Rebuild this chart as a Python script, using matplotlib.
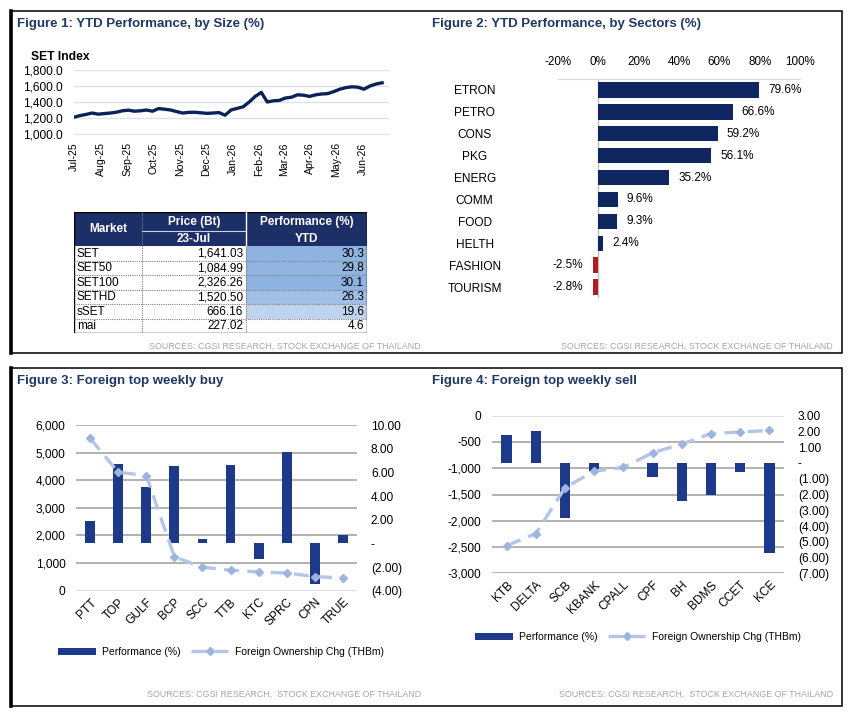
import matplotlib
matplotlib.use("Agg")
import matplotlib.pyplot as plt
import matplotlib.dates as mdates
import numpy as np
import pandas as pd
from matplotlib.patches import Rectangle
from matplotlib.lines import Line2D
from matplotlib.ticker import FuncFormatter
from matplotlib.colors import LinearSegmentedColormap, Normalize

plt.rcParams["font.family"] = ["Liberation Sans", "DejaVu Sans"]

# ---- data ----
# SET index, weekly readings from Jul-25
set_index = [1210, 1230, 1245, 1262, 1248, 1255, 1262, 1272, 1290, 1298,
             1285, 1290, 1300, 1285, 1318, 1310, 1300, 1280, 1262, 1270,
             1272, 1265, 1258, 1262, 1268, 1235, 1300, 1320, 1340, 1400,
             1470, 1520, 1400, 1415, 1420, 1450, 1460, 1490, 1485, 1470,
             1490, 1500, 1505, 1530, 1560, 1580, 1590, 1585, 1560, 1600,
             1625, 1640]

markets = ["SET", "SET50", "SET100", "SETHD", "sSET", "mai"]
prices = [1641.03, 1084.99, 2326.26, 1520.50, 666.16, 227.02]
ytd_perf = [30.3, 29.8, 30.1, 26.3, 19.6, 4.6]

sectors = ["ETRON", "PETRO", "CONS", "PKG", "ENERG", "COMM", "FOOD", "HELTH",
           "FASHION", "TOURISM"]
sector_perf = [79.6, 66.6, 59.2, 56.1, 35.2, 9.6, 9.3, 2.4, -2.5, -2.8]

buy_names = ["PTT", "TOP", "GULF", "BCP", "SCC", "TTB", "KTC", "SPRC", "CPN", "TRUE"]
buy_perf = [1.9, 6.7, 4.8, 6.5, 0.4, 6.6, -1.3, 7.7, -3.4, 0.7]
buy_flow = [5520, 4290, 4170, 1230, 850, 740, 680, 640, 510, 460]

sell_names = ["KTB", "DELTA", "SCB", "KBANK", "CPALL", "CPF", "BH", "BDMS", "CCET", "KCE"]
sell_perf = [1.8, 2.0, -3.5, -0.5, 0.0, -0.9, -2.4, -2.05, -0.55, -5.7]
sell_flow = [-2475, -2245, -1370, -1055, -985, -705, -540, -340, -310, -280]

# ---- layout helpers ----
W, H = 853, 717
fig = plt.figure(figsize=(W / 100, H / 100), dpi=100)


def box(x0, y0, x1, y1):
    return [x0 / W, 1 - y1 / H, (x1 - x0) / W, (y1 - y0) / H]


def fx(x):
    return x / W


def fy(y):
    return 1 - y / H


NAVY = "#1f3864"
BAR_DARK = "#0f2660"
BAR_MID = "#1d3a8a"
LINE_LIGHT = "#b4c6e7"
MARK = "#9db4de"
GREY_TXT = "#a6a6a6"
FS = 8.6

# panel borders
for x0, y0, x1, y1 in [(11, 11, 842, 353), (11, 368, 842, 706)]:
    fig.add_artist(Rectangle((fx(x0), fy(y1)), (x1 - x0) / W, (y1 - y0) / H,
                             transform=fig.transFigure, fill=False, ec="black", lw=1.1))
    fig.add_artist(Line2D([fx(x0), fx(x0)], [fy(y0), fy(y1)],
                          transform=fig.transFigure, color="black", lw=2.6))

titles = [(17, 24, "Figure 1: YTD Performance, by Size (%)"),
          (432, 24, "Figure 2: YTD Performance, by Sectors (%)"),
          (17, 381, "Figure 3: Foreign top weekly buy"),
          (432, 381, "Figure 4: Foreign top weekly sell")]
for x, y, t in titles:
    fig.text(fx(x), fy(y), t, ha="left", va="center", fontsize=9.5,
             fontweight="bold", color=NAVY)

src1 = "SOURCES: CGSI RESEARCH, STOCK EXCHANGE OF THAILAND"
src2 = "SOURCES: CGSI RESEARCH,  STOCK EXCHANGE OF THAILAND"
for x, y, t in [(421, 346, src1), (833, 346, src1), (421, 694, src2), (833, 694, src2)]:
    fig.text(fx(x), fy(y), t, ha="right", va="center", fontsize=6.4, color=GREY_TXT)

# ---- Figure 1: SET index line ----
dates = pd.date_range("2025-07-01", periods=len(set_index), freq="7D")
ax1 = fig.add_axes(box(74, 70, 389, 134))
ax1.plot(dates, set_index, color="#0b2258", lw=2.4)
ax1.set_xlim(pd.Timestamp("2025-07-01"), pd.Timestamp("2026-07-01"))
ax1.set_ylim(1000, 1800)
ax1.set_yticks(np.arange(1000, 1801, 200))
ax1.yaxis.set_major_formatter(FuncFormatter(lambda v, p: f"{v:,.1f}"))
ax1.set_xticks(pd.date_range("2025-07-01", "2026-06-01", freq="MS"))
ax1.xaxis.set_major_formatter(mdates.DateFormatter("%b-%y"))
ax1.tick_params(axis="x", rotation=90, labelsize=7.6, length=0, pad=6)
ax1.tick_params(axis="y", labelsize=FS, length=0, pad=8)
ax1.grid(axis="y", color="#dbe3ee", lw=1.0)
for s in ["top", "right", "left"]:
    ax1.spines[s].set_visible(False)
ax1.spines["bottom"].set_color("#dbe3ee")
fig.text(fx(31), fy(57), "SET Index", ha="left", va="center", fontsize=8.7, fontweight="bold")

# ---- Figure 1 table ----
axt = fig.add_axes(box(74, 212, 367, 333))
axt.set_xlim(74, 367)
axt.set_ylim(333, 212)
axt.set_axis_off()
cx = [74, 142, 246, 367]
hy0, hmid, hy1 = 212, 231, 246
row_h = (333 - hy1) / len(markets)
axt.add_patch(Rectangle((cx[0], hy0), cx[3] - cx[0], hy1 - hy0, color="#1c2f66", lw=0))
cmap = LinearSegmentedColormap.from_list("perf", ["#ffffff", "#8fb3e0"])
norm = Normalize(min(ytd_perf), max(ytd_perf))
for i, (m, p, v) in enumerate(zip(markets, prices, ytd_perf)):
    y0 = hy1 + i * row_h
    axt.add_patch(Rectangle((cx[2], y0), cx[3] - cx[2], row_h, color=cmap(norm(v)), lw=0))
    yc = y0 + row_h / 2 + 0.5
    axt.text(cx[0] + 3, yc, m, ha="left", va="center", fontsize=8.5)
    axt.text(cx[2] - 3, yc, f"{p:,.2f}", ha="right", va="center", fontsize=8.5)
    axt.text(cx[3] - 3, yc, f"{v:.1f}", ha="right", va="center", fontsize=8.5)
    if i > 0:
        axt.plot([cx[0], cx[3]], [y0, y0], color="#7f7f7f", lw=0.8, ls=(0, (1, 1)))
hdr = dict(ha="center", va="center", fontsize=8.5, fontweight="bold", color="white")
axt.text((cx[0] + cx[1]) / 2, (hy0 + hy1) / 2, "Market", **hdr)
axt.text((cx[1] + cx[2]) / 2, (hy0 + hmid) / 2 + 0.5, "Price (Bt)", **hdr)
axt.text((cx[1] + cx[2]) / 2, (hmid + hy1) / 2 + 0.5, "23-Jul", **hdr)
axt.text((cx[2] + cx[3]) / 2, (hy0 + hmid) / 2 + 0.5, "Performance (%)", **hdr)
axt.text((cx[2] + cx[3]) / 2, (hmid + hy1) / 2 + 0.5, "YTD", **hdr)
axt.plot([cx[1], cx[2]], [hmid, hmid], color="#c9d3e6", lw=0.8)
axt.plot([cx[2], cx[2]], [hy0, hy1], color="white", lw=1.0)
axt.plot([cx[1], cx[1]], [hy0, 333], color="#7f7f7f", lw=0.8, ls=(0, (1, 1)))
axt.plot([cx[2], cx[2]], [hy1, 333], color="#7f7f7f", lw=0.8, ls=(0, (1, 1)))
axt.add_patch(Rectangle((cx[0], hy0), cx[3] - cx[0], 333 - hy0, fill=False, ec="black", lw=1.0))

# ---- Figure 2: sectors ----
ax2 = fig.add_axes(box(558, 79, 800, 298))
ypos = np.arange(len(sectors))
colors = [BAR_DARK if v >= 0 else "#b01c24" for v in sector_perf]
ax2.barh(ypos, sector_perf, height=0.7, color=colors)
ax2.set_xlim(-20, 100)
ax2.set_ylim(len(sectors) - 0.5, -0.5)
ax2.set_xticks(np.arange(-20, 101, 20))
ax2.xaxis.set_major_formatter(FuncFormatter(lambda v, p: f"{v:.0f}%"))
ax2.xaxis.tick_top()
ax2.tick_params(axis="x", labelsize=8.4, length=0, pad=8)
ax2.set_yticks(ypos)
ax2.set_yticklabels(sectors, ha="center")
ax2.tick_params(axis="y", labelsize=FS, length=0, pad=60)
for s in ["bottom", "right", "left"]:
    ax2.spines[s].set_visible(False)
ax2.spines["top"].set_color("#d9d9d9")
ax2.axvline(0, color="#bfbfbf", lw=1.0, zorder=0)
for yv, v in zip(ypos, sector_perf):
    if v >= 0:
        ax2.annotate(f"{v:.1f}%", (v, yv), xytext=(6.5, 0), textcoords="offset points",
                     ha="left", va="center", fontsize=8.5)
    else:
        ax2.annotate(f"{v:.1f}%", (v, yv), xytext=(-7, 0), textcoords="offset points",
                     ha="right", va="center", fontsize=8.5)


def paren(v, p=None):
    if abs(v) < 1e-9:
        return "-"
    return f"{v:.2f}" if v > 0 else f"({-v:.2f})"


def flow_chart(rect, names, perf, flow, left_lim, left_step, right_lim, right_step, leg_xy, light_at):
    axa = fig.add_axes(box(*rect))
    x = np.arange(len(names))
    axa.set_ylim(*left_lim)
    ticks = np.arange(left_lim[0], left_lim[1] + 1, left_step)
    axa.set_yticks(ticks)
    axa.yaxis.set_major_formatter(FuncFormatter(lambda v, p: f"{v:,.0f}"))
    axa.grid(axis="y", color="#a6a6a6", lw=1.2)
    axa.set_axisbelow(True)
    for t, gl in zip(ticks, axa.yaxis.get_gridlines()):
        if t == light_at:
            gl.set_color("#d9d9d9")
    axb = axa.twinx()
    bars = axb.bar(x, perf, width=0.35, color=BAR_MID, label="Performance (%)")
    axb.set_ylim(*right_lim)
    axb.set_yticks(np.arange(right_lim[0], right_lim[1] + 0.01, right_step))
    axb.yaxis.set_major_formatter(FuncFormatter(paren))
    axc = fig.add_axes(axa.get_position(), sharex=axa, sharey=axa)
    axc.set_axis_off()
    line, = axc.plot(x, flow, color=LINE_LIGHT, lw=2.4, dashes=(4.5, 2.5),
                     marker="D", markersize=4.5, markerfacecolor=MARK, markeredgecolor=MARK,
                     label="Foreign Ownership Chg (THBm)")
    axa.set_xlim(-0.5, len(names) - 0.5)
    axa.set_ylim(*left_lim)
    axa.set_xticks(x)
    axa.set_xticklabels(names, rotation=45, ha="right", rotation_mode="anchor")
    axa.tick_params(axis="x", labelsize=FS, length=0, pad=4)
    axa.tick_params(axis="y", labelsize=FS, length=0, pad=7.5)
    axb.tick_params(axis="y", labelsize=FS, length=0, pad=10)
    for a in (axa, axb):
        for s in a.spines.values():
            s.set_visible(False)
    fig.legend([bars, line], ["Performance (%)", "Foreign Ownership Chg (THBm)"],
               loc="center left", bbox_to_anchor=(fx(leg_xy[0]), fy(leg_xy[1])),
               ncol=2, frameon=False, fontsize=7.5, handlelength=3.6, handletextpad=0.6,
               columnspacing=1.0, borderpad=0, borderaxespad=0, numpoints=1)


flow_chart((76, 425, 357, 590.7), buy_names, buy_perf, buy_flow,
           (0, 6000), 1000, (-4, 10), 2, (58, 652), 0)
flow_chart((492, 415.7, 784, 573.3), sell_names, sell_perf, sell_flow,
           (-3000, 0), 500, (-7, 3), 1, (475, 637), 0)

fig.savefig("out.png", dpi=100)
